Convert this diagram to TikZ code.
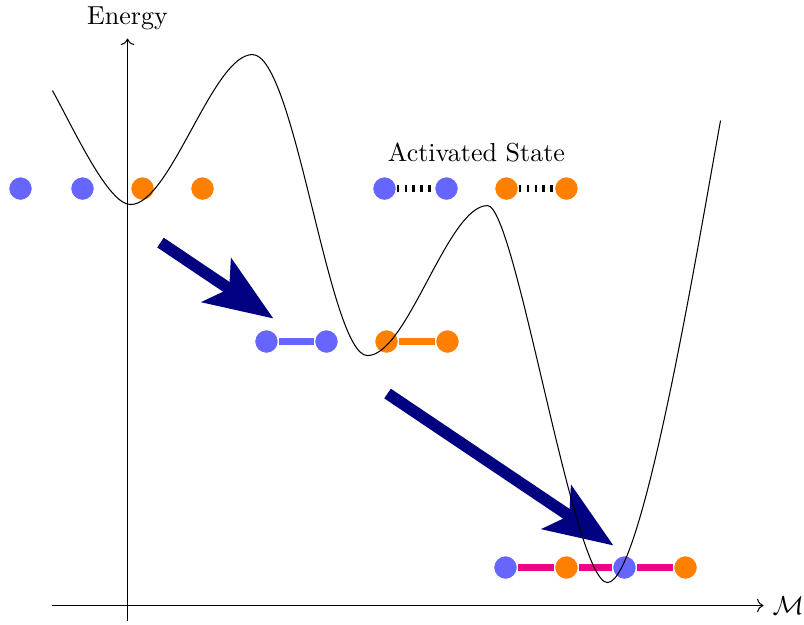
\documentclass[tikz,border=0pt]{standalone}
\definecolor{navyblue}{RGB}{0,0,128}
\definecolor{bondpink}{RGB}{236,0,140}
\usepackage{amsmath, amssymb}
\usetikzlibrary{arrows.meta, positioning, calc}
\tikzset{
	atom/.style={circle, draw=white, line width=0.4pt, minimum size=0.32cm, inner sep=0pt},
	atomA/.style={atom, fill=blue!60},
	atomB/.style={atom, fill=orange},
	bond/.style={line width=3pt},
	weakbond/.style={line width=2.7pt, dash pattern=on 1pt off 2pt},
	bigarrow/.style={navyblue, line width=4.5pt, -{Stealth[length=0.92cm, width=0.7cm, inset=0.2cm]}},
}
\begin{document}
\begin{tikzpicture}
			\useasboundingbox (-1.723,-0.250) rectangle (9.142,8.183);
			\draw[->] (-1.014,0) -- (8.595,0) node[right] (maxis) {$\mathcal{M}$};
			\draw[->] (0,-0.203) -- (0,7.662) node[above] (eaxis) {Energy};
			
			\coordinate (t1) at (0.446,4.905);
			\coordinate (h1) at (1.973,3.878);
			\coordinate (t2) at (3.514,2.865);
			\coordinate (h2) at (6.568,0.811);
			\draw[bigarrow] (t1) -- (h1);
			\draw[bigarrow] (t2) -- (h2);
			
			% separate atoms
			\node[atomA] (a1) at (-1.446,5.635) {};
			\node[atomA] (a2) at (-0.608,5.635) {};
			\node[atomB] (b1) at (0.203,5.635) {};
			\node[atomB] (b2) at (1.014,5.635) {};
			
			% activated state
			\node[atomA] (a3) at (3.473,5.635) {};
			\node[atomA] (a4) at (4.311,5.635) {};
			\node[atomB] (b3) at (5.122,5.635) {};
			\node[atomB] (b4) at (5.932,5.635) {};
			\draw[weakbond] (a3) -- (a4);
			\draw[weakbond] (b3) -- (b4);
			\node (actlabel) at (4.716,6.122) {Activated State};
			
			% dimers
			\node[atomA] (a5) at (1.878,3.568) {};
			\node[atomA] (a6) at (2.689,3.568) {};
			\node[atomB] (b5) at (3.5,3.568) {};
			\node[atomB] (b6) at (4.324,3.568) {};
			\draw[bond, blue!60] (a5) -- (a6);
			\draw[bond, orange] (b5) -- (b6);
			
			% chain
			\node[atomA] (a7) at (5.108,0.514) {};
			\node[atomB] (b7) at (5.932,0.514) {};
			\node[atomA] (a8) at (6.716,0.514) {};
			\node[atomB] (b8) at (7.541,0.514) {};
			\draw[bond, bondpink] (a7) -- (b7) (b7) -- (a8) (a8) -- (b8);
			
			\draw (-1.014,6.959) .. controls (-0.703,6.392) and (-0.257,5.419) .. (0.041,5.419)
				.. controls (0.581,5.419) and (1.149,7.446) .. (1.689,7.446)
				.. controls (2.264,7.446) and (2.723,3.378) .. (3.243,3.378)
				.. controls (3.784,3.378) and (4.324,5.405) .. (4.865,5.405)
				.. controls (5.243,5.405) and (6.027,0.311) .. (6.486,0.311)
				.. controls (6.959,0.311) and (7.703,4.838) .. (8.014,6.554);
			
\end{tikzpicture}
\end{document}
